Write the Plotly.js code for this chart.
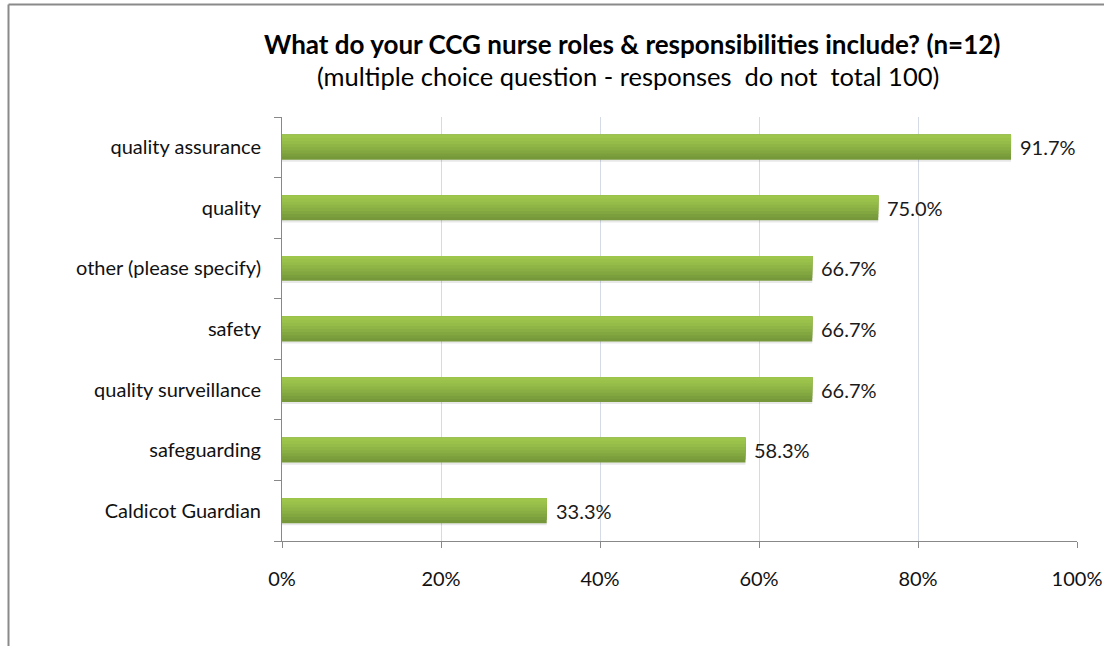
<!DOCTYPE html>
<html>
<head>
<meta charset="utf-8">
<script src="https://cdn.plot.ly/plotly-3.0.1.min.js"></script>
<style>
  html, body { margin: 0; padding: 0; background: #fff; }
  #chart { width: 1104px; height: 646px; }
</style>
</head>
<body>
<div id="chart"></div>
<script>
// Data (bottom to top as plotted)
var categories = ["Caldicot Guardian", "safeguarding", "quality surveillance", "safety", "other (please specify)", "quality", "quality assurance"];
var percentValues = [33.3, 58.3, 66.7, 66.7, 66.7, 75.0, 91.7];
var tickValues = [0, 20, 40, 60, 80, 100];
var tickLabels = ["0%", "20%", "40%", "60%", "80%", "100%"];

var labelTexts = percentValues.map(function (v) { return v.toFixed(1) + "%"; });

// Gradient simulated with overlapping bars (each lighter layer covers from its start to the top edge)
var bandColors = ["#76983a", "#7c9f3d", "#83a740", "#89ae43", "#8fb546", "#95bc48", "#9ac24b", "#9ec64d"];
var barWidth = 0.41;
var bandW = barWidth / bandColors.length;
var traces = [];

// soft shadow below bar
traces.push({
  type: "bar", orientation: "h", x: percentValues, y: categories,
  width: 0.04, offset: -barWidth / 2 - 0.035,
  marker: { color: "rgba(0,0,0,0.09)", line: { width: 0 } },
  hoverinfo: "skip", showlegend: false
});

bandColors.forEach(function (c, i) {
  var start = -barWidth / 2 + i * bandW;
  traces.push({
    type: "bar", orientation: "h", x: percentValues, y: categories,
    width: barWidth / 2 - start, offset: start,
    marker: { color: c, line: { width: 0 } },
    hoverinfo: "skip", showlegend: false
  });
});

var W = 795, H = 424, L = 282, T = 117;
function px2x(p) { return (p - L) / W; }
function py2y(p) { return (T + H - p) / H; }

var annotations = [
  { xref: "paper", yref: "paper", x: px2x(632), y: py2y(44), xanchor: "center", yanchor: "middle",
    text: "<b>What do your CCG nurse roles & responsibilities include? (n=12)</b>", showarrow: false,
    font: { size: 26, color: "#000" } },
  { xref: "paper", yref: "paper", x: px2x(628), y: py2y(76), xanchor: "center", yanchor: "middle",
    text: "(multiple choice question - responses  do not  total 100)", showarrow: false,
    font: { size: 25.5, color: "#000" } }
];
percentValues.forEach(function (v, i) {
  annotations.push({
    xref: "x", yref: "y", x: v, y: categories[i], xanchor: "left", yanchor: "middle",
    xshift: 7, text: labelTexts[i], showarrow: false,
    font: { size: 20, color: "#1a1a1a" }
  });
});

var layout = {
  width: 1104, height: 646,
  margin: { l: 282, r: 27, t: 117, b: 105 },
  paper_bgcolor: "#ffffff", plot_bgcolor: "#ffffff",
  barmode: "overlay",
  font: { family: "Lato, 'Open Sans', sans-serif", size: 20, color: "#000" },
  xaxis: {
    range: [0, 100], tickvals: tickValues, ticktext: tickLabels,
    showgrid: true, gridcolor: "#d5dbe6", gridwidth: 1,
    showline: true, linecolor: "#888888", linewidth: 1,
    ticks: "outside", ticklen: 6, tickcolor: "#888888",
    ticklabelstandoff: 14,
    zeroline: false, fixedrange: true,
    tickfont: { size: 20, color: "#111" }
  },
  yaxis: {
    type: "category", categoryorder: "array", categoryarray: categories,
    range: [-0.5, categories.length - 0.5],
    showline: true, linecolor: "#888888", linewidth: 1,
    ticks: "outside", ticklen: 7, tickcolor: "#888888", tickson: "boundaries",
    ticklabelstandoff: 16,
    showgrid: false, zeroline: false, fixedrange: true,
    tickfont: { size: 20, color: "#111" }
  },
  annotations: annotations,
  shapes: [
    { type: "line", xref: "paper", yref: "paper", x0: px2x(8.5), x1: px2x(1110), y0: py2y(4.5), y1: py2y(4.5),
      line: { color: "#8a8a8a", width: 2 } },
    { type: "line", xref: "paper", yref: "paper", x0: px2x(8.5), x1: px2x(8.5), y0: py2y(4.5), y1: py2y(660),
      line: { color: "#8a8a8a", width: 2 } }
  ]
};

Plotly.newPlot("chart", traces, layout, { displayModeBar: false, staticPlot: true });
</script>
</body>
</html>
